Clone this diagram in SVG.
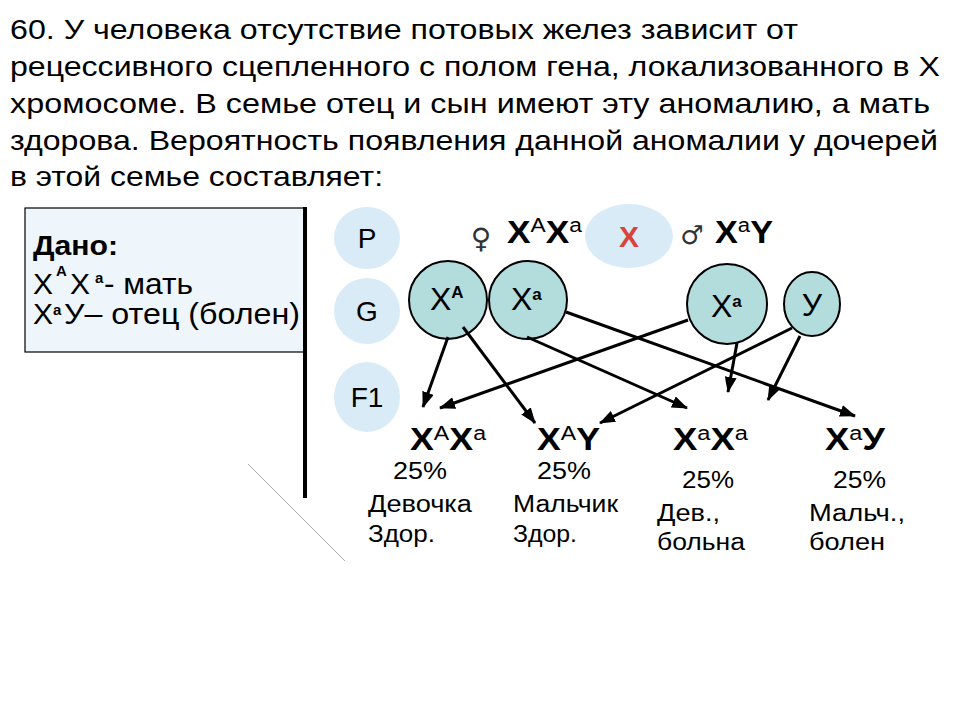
<svg xmlns="http://www.w3.org/2000/svg" width="960" height="720" viewBox="0 0 960 720">
<style>
text{font-family:"Liberation Sans",Arial,sans-serif;fill:#000}
.hd{font-size:28px}
.lbl{font-size:28px}
.gl{font-size:32px}
.big{font-size:31px;font-weight:bold}
.sup{font-size:20px;font-weight:normal}
.supb{font-size:15px;font-weight:bold}
.gsup{font-size:17px;font-weight:bold}
.pct{font-size:23px}
.gam{fill:#b3dcdc;stroke:#000;stroke-width:2}
.gen{fill:#d8ebf7}
.conn line{stroke:#000;stroke-width:3;marker-end:url(#ah)}
</style>
<defs>
<marker id="ah" markerUnits="userSpaceOnUse" markerWidth="16" markerHeight="12" refX="15" refY="6" orient="auto">
<path d="M0,0 L16,6 L0,12 z" fill="#000"/>
</marker>
</defs>
<rect width="960" height="720" fill="#fff"/>
<g id="question">
<text class="hd" x="10" y="39" textLength="788" lengthAdjust="spacingAndGlyphs">60. У человека отсутствие потовых желез зависит от</text>
<text class="hd" x="10" y="76" textLength="930" lengthAdjust="spacingAndGlyphs">рецессивного сцепленного с полом гена, локализованного в Х</text>
<text class="hd" x="10" y="113" textLength="920" lengthAdjust="spacingAndGlyphs">хромосоме. В семье отец и сын имеют эту аномалию, а мать</text>
<text class="hd" x="10" y="150" textLength="928" lengthAdjust="spacingAndGlyphs">здорова. Вероятность появления данной аномалии у дочерей</text>
<text class="hd" x="10" y="186" textLength="373" lengthAdjust="spacingAndGlyphs">в этой семье составляет:</text>
</g>
<g id="given">
<rect x="25" y="208" width="279" height="144" fill="#eef6fc" stroke="#000" stroke-width="1.2"/>
<line x1="305" y1="207" x2="305" y2="498" stroke="#000" stroke-width="4"/>
<text x="33" y="255" font-size="28" font-weight="bold" textLength="85" lengthAdjust="spacingAndGlyphs">Дано:</text>
<text x="33" y="294" font-size="30">X</text>
<text x="56" y="276" class="supb">А</text>
<text x="70" y="294" font-size="30">X</text>
<text x="95" y="283" class="supb">а</text>
<text x="104" y="294" font-size="30" textLength="89" lengthAdjust="spacingAndGlyphs">- мать</text>
<text x="33" y="324" font-size="30">X</text>
<text x="53" y="315" class="supb">а</text>
<text x="64" y="324" font-size="30" textLength="236" lengthAdjust="spacingAndGlyphs">У– отец (болен)</text>
</g>
<line x1="248" y1="464" x2="345" y2="561" stroke="#aaa" stroke-width="1"/>
<g id="gen-P"><ellipse class="gen" cx="367" cy="238" rx="33" ry="31"/><text class="lbl" x="367" y="248" text-anchor="middle">P</text></g>
<g id="gen-G"><ellipse class="gen" cx="367" cy="311" rx="33" ry="33"/><text class="lbl" x="367" y="321" text-anchor="middle">G</text></g>
<g id="gen-F1"><ellipse class="gen" cx="367" cy="397" rx="33" ry="35"/><text class="lbl" x="367" y="407" text-anchor="middle">F1</text></g>
<g id="mother">
<text x="481" y="248" font-size="28" text-anchor="middle" style="font-family:'DejaVu Sans',sans-serif;fill:#333">♀</text>
<text class="big" x="507" y="243" textLength="75" lengthAdjust="spacingAndGlyphs">X<tspan class="sup" dy="-11">A</tspan><tspan dy="11">X</tspan><tspan class="sup" dy="-11">a</tspan></text>
</g>
<g id="cross">
<ellipse class="gen" cx="629" cy="236" rx="44" ry="32"/>
<text x="629" y="247" font-size="30" font-weight="bold" text-anchor="middle" style="fill:#d8433b">X</text>
</g>
<g id="father">
<text x="692" y="244" font-size="26" text-anchor="middle" style="font-family:'DejaVu Sans',sans-serif;fill:#333">♂</text>
<text class="big" x="715" y="243" textLength="58" lengthAdjust="spacingAndGlyphs">X<tspan class="sup" dy="-11">a</tspan><tspan dy="11">Y</tspan></text>
</g>
<g id="gam-mA"><circle class="gam" cx="448" cy="300" r="39"/><text class="gl" x="430" y="310">X<tspan class="gsup" dy="-12">А</tspan></text></g>
<g id="gam-ma"><circle class="gam" cx="528" cy="300" r="39"/><text class="gl" x="511" y="310">X<tspan class="gsup" dy="-10">а</tspan></text></g>
<g id="gam-fa"><circle class="gam" cx="727" cy="304" r="40"/><text class="gl" x="711" y="317">X<tspan class="gsup" dy="-10">а</tspan></text></g>
<g id="gam-fY"><ellipse class="gam" cx="812" cy="304" rx="28" ry="32"/><text class="gl" x="812" y="316" text-anchor="middle">У</text></g>
<g class="conn" id="connectors">
<line x1="448" y1="337" x2="423" y2="407"/>
<line x1="463" y1="327" x2="535" y2="423"/>
<line x1="688" y1="320" x2="440" y2="408"/>
<line x1="792" y1="328" x2="600" y2="423"/>
<line x1="527" y1="337" x2="687" y2="408"/>
<line x1="566" y1="312" x2="855" y2="416"/>
<line x1="737" y1="343" x2="728" y2="392"/>
<line x1="800" y1="336" x2="768" y2="400"/>
</g>
<g id="f1-1">
<text class="big" x="410" y="450" textLength="76" lengthAdjust="spacingAndGlyphs">X<tspan class="sup" dy="-10">A</tspan><tspan dy="10">X</tspan><tspan class="sup" dy="-10">a</tspan></text>
<text class="pct" x="393" y="479" textLength="54" lengthAdjust="spacingAndGlyphs">25%</text>
<text class="pct" x="368" y="512" textLength="104" lengthAdjust="spacingAndGlyphs">Девочка</text>
<text class="pct" x="368" y="542" textLength="67" lengthAdjust="spacingAndGlyphs">Здор.</text>
</g>
<g id="f1-2">
<text class="big" x="537" y="450" textLength="63" lengthAdjust="spacingAndGlyphs">X<tspan class="sup" dy="-10">A</tspan><tspan dy="10">Y</tspan></text>
<text class="pct" x="537" y="479" textLength="54" lengthAdjust="spacingAndGlyphs">25%</text>
<text class="pct" x="513" y="512" textLength="105" lengthAdjust="spacingAndGlyphs">Мальчик</text>
<text class="pct" x="513" y="542" textLength="64" lengthAdjust="spacingAndGlyphs">Здор.</text>
</g>
<g id="f1-3">
<text class="big" x="673" y="450" textLength="75" lengthAdjust="spacingAndGlyphs">X<tspan class="sup" dy="-10">a</tspan><tspan dy="10">X</tspan><tspan class="sup" dy="-10">a</tspan></text>
<text class="pct" x="682" y="488" textLength="52" lengthAdjust="spacingAndGlyphs">25%</text>
<text class="pct" x="657" y="521" textLength="63" lengthAdjust="spacingAndGlyphs">Дев.,</text>
<text class="pct" x="657" y="550" textLength="88" lengthAdjust="spacingAndGlyphs">больна</text>
</g>
<g id="f1-4">
<text class="big" x="825" y="450" textLength="60" lengthAdjust="spacingAndGlyphs">X<tspan class="sup" dy="-10">a</tspan><tspan dy="10">У</tspan></text>
<text class="pct" x="833" y="488" textLength="53" lengthAdjust="spacingAndGlyphs">25%</text>
<text class="pct" x="809" y="521" textLength="96" lengthAdjust="spacingAndGlyphs">Мальч.,</text>
<text class="pct" x="809" y="550" textLength="76" lengthAdjust="spacingAndGlyphs">болен</text>
</g>
</svg>
